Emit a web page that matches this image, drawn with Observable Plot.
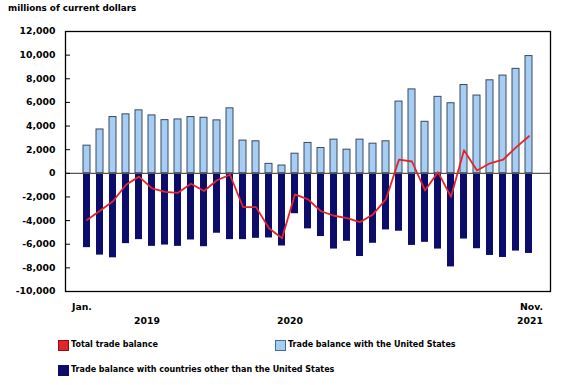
<!DOCTYPE html>
<html>
<head>
<meta charset="utf-8">
<script src="https://cdn.jsdelivr.net/npm/d3@7"></script>
<script src="https://cdn.jsdelivr.net/npm/@observablehq/plot@0.6"></script>
<style>
  html, body { margin: 0; padding: 0; background: #fff; }
  body { width: 580px; height: 385px; position: relative; font-family: "DejaVu Sans", Verdana, sans-serif; font-weight: bold; font-size: 8px; color: #000; overflow: hidden; }
  #title { position: absolute; left: 8px; top: 0; height: 16px; line-height: 16px; font-size: 8.8px; }
  #chart { position: absolute; left: 0; top: 16px; }
  .leg { position: absolute; height: 14px; line-height: 14px; white-space: nowrap; }
  .sw { position: absolute; left: 0; top: 2px; width: 9px; height: 9px; border: 1px solid; }
  .lt { position: absolute; left: 13px; top: 0; }
</style>
</head>
<body>
<div id="title">millions of current dollars</div>
<div id="chart"></div>
<div class="leg" style="left:58px; top:338px;"><span class="sw" style="background:#e3242b; border-color:#8a1015;"></span><span class="lt">Total trade balance</span></div>
<div class="leg" style="left:275px; top:338px;"><span class="sw" style="background:#a6cdf3; border-color:#4a6a8a;"></span><span class="lt">Trade balance with the United States</span></div>
<div class="leg" style="left:58px; top:363px;"><span class="sw" style="background:#0c0c6b; border-color:#0c0c6b;"></span><span class="lt">Trade balance with countries other than the United States</span></div>
<script>
const months = [
  "2019-01","2019-02","2019-03","2019-04","2019-05","2019-06","2019-07","2019-08","2019-09","2019-10","2019-11","2019-12",
  "2020-01","2020-02","2020-03","2020-04","2020-05","2020-06","2020-07","2020-08","2020-09","2020-10","2020-11","2020-12",
  "2021-01","2021-02","2021-03","2021-04","2021-05","2021-06","2021-07","2021-08","2021-09","2021-10","2021-11"
];
const usBalance = [
  2340, 3710, 4760, 4990, 5330, 4900, 4500, 4560, 4760, 4700, 4480, 5500,
  2770, 2710, 800, 660, 1660, 2570, 2140, 2850, 2000, 2850, 2510, 2710,
  6070, 7100, 4360, 6470, 5930, 7470, 6580, 7870, 8270, 8840, 9920
];
const otherBalance = [
  -6290, -6920, -7150, -5950, -5610, -6180, -6070, -6180, -5640, -6210, -5070, -5610,
  -5610, -5500, -5470, -6150, -3420, -4700, -5350, -6410, -5750, -7040, -5920, -4790,
  -4900, -6100, -5840, -6410, -7920, -5560, -6380, -6950, -7120, -6580, -6780
];
const totalBalance = [
  -3950, -3170, -2360, -970, -280, -1280, -1570, -1650, -880, -1500, -590, -120,
  -2850, -2860, -4650, -5490, -1780, -2200, -3210, -3590, -3800, -4130, -3480, -2180,
  1160, 1000, -1450, 100, -1990, 1950, 240, 850, 1150, 2200, 3140
];
const yTicks = [-10000, -8000, -6000, -4000, -2000, 0, 2000, 4000, 6000, 8000, 10000, 12000];
const monthLabels = [{m: "2019-01", label: "Jan."}, {m: "2021-11", label: "Nov."}];
const yearLabels = [{m: "2019-06", label: "2019"}, {m: "2020-05", label: "2020"}, {m: "2021-11", label: "2021"}];

const data = months.map((m, i) => ({m, us: usBalance[i], other: otherBalance[i], total: totalBalance[i]}));
const font = "DejaVu Sans, Verdana, sans-serif";

const chart = Plot.plot({
  width: 580,
  height: 316,
  marginTop: 15,
  marginBottom: 41,
  marginLeft: 65,
  marginRight: 30,
  style: {fontFamily: font, fontSize: "9.3px", fontWeight: "bold", color: "#000", background: "transparent"},
  x: {type: "band", domain: months, paddingInner: 0.48, paddingOuter: 0.705, axis: null},
  y: {domain: [-10000, 12000], ticks: yTicks, label: null, tickFormat: d => d.toLocaleString("en-US")},
  marks: [
    Plot.barY(data, {x: "m", y: "us", fill: "#a6cdf3", stroke: "#3a4a5e", strokeWidth: 1}),
    Plot.barY(data, {x: "m", y: "other", fill: "#0c0c6b"}),
    Plot.ruleY([0], {stroke: "#555", strokeWidth: 1.2}),
    Plot.line(data, {x: "m", y: "total", stroke: "#e3242b", strokeWidth: 1.8}),
    Plot.frame({stroke: "#000", strokeWidth: 1.3}),
    Plot.axisY({ticks: yTicks, tickSize: -5, tickPadding: 15, tickFormat: d => d.toLocaleString("en-US"), label: null, stroke: "#000"}),
    Plot.text(monthLabels.slice(0, 1), {x: "m", text: "label", frameAnchor: "bottom", dy: 16, dx: -15, textAnchor: "start", lineAnchor: "middle"}),
    Plot.text(monthLabels.slice(1), {x: "m", text: "label", frameAnchor: "bottom", dy: 16, dx: 14, textAnchor: "end", lineAnchor: "middle"}),
    Plot.text(yearLabels.slice(0, 2), {x: "m", text: "label", frameAnchor: "bottom", dy: 30, dx: -5, textAnchor: "middle", lineAnchor: "middle"}),
    Plot.text(yearLabels.slice(2), {x: "m", text: "label", frameAnchor: "bottom", dy: 30, dx: 14, textAnchor: "end", lineAnchor: "middle"})
  ]
});
document.getElementById("chart").appendChild(chart);
</script>
</body>
</html>
